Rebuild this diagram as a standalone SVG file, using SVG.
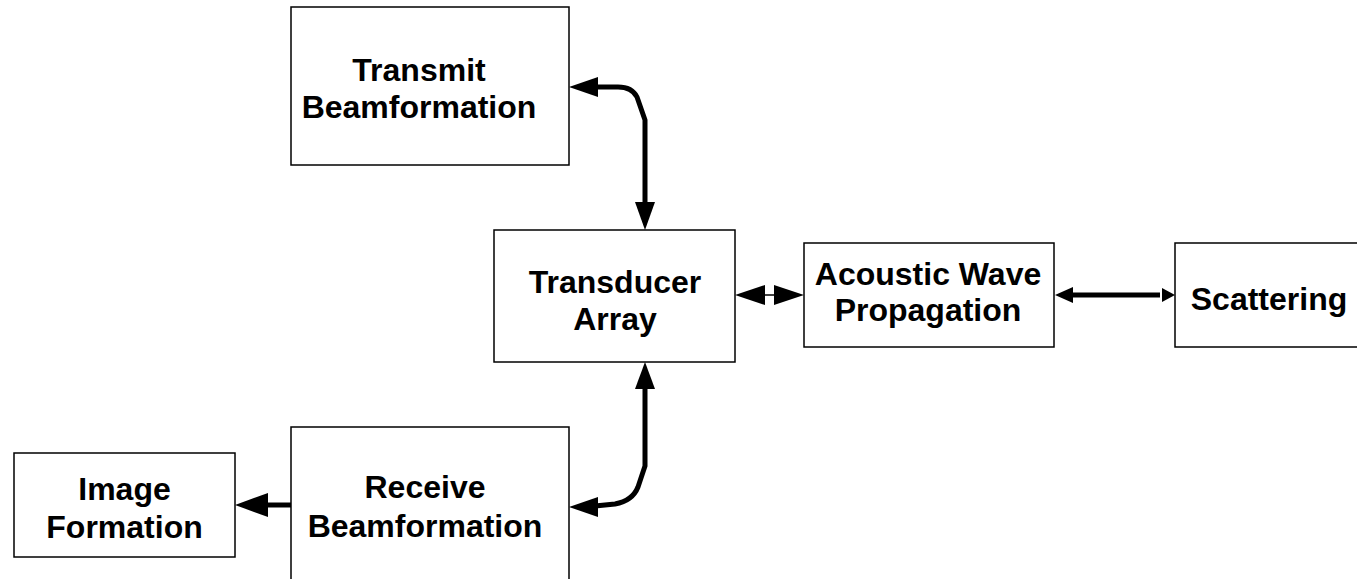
<svg xmlns="http://www.w3.org/2000/svg" width="1357" height="579" viewBox="0 0 1357 579">
  <style>
    .box { fill: #ffffff; stroke: #000000; stroke-width: 1.5; }
    .label { font-family: "Liberation Sans", Arial, sans-serif; font-weight: bold; font-size: 32px; fill: #000000; text-anchor: middle; }
    .wire { fill: none; stroke: #000000; stroke-width: 5; stroke-linejoin: round; }
    .thin { fill: none; stroke: #000000; stroke-width: 1.5; }
    .head { fill: #000000; stroke: none; }
  </style>
  <rect width="1357" height="579" fill="#ffffff"/>

  <g id="transmit">
    <rect class="box" x="291" y="7" width="278" height="158"/>
    <text class="label" x="419" y="81">Transmit</text>
    <text class="label" x="419" y="118">Beamformation</text>
  </g>

  <g id="transducer">
    <rect class="box" x="494" y="230" width="241" height="132"/>
    <text class="label" x="615" y="293">Transducer</text>
    <text class="label" x="615" y="330">Array</text>
  </g>

  <g id="acoustic">
    <rect class="box" x="804" y="243" width="250" height="104"/>
    <text class="label" x="928" y="285">Acoustic Wave</text>
    <text class="label" x="928" y="321">Propagation</text>
  </g>

  <g id="scattering">
    <path class="box" d="M1360 243 H1175 V347 H1360"/>
    <text class="label" x="1269" y="310">Scattering</text>
  </g>

  <g id="receive">
    <path class="box" d="M291 582 V427 H569 V582"/>
    <text class="label" x="425" y="498">Receive</text>
    <text class="label" x="425" y="537">Beamformation</text>
  </g>

  <g id="image">
    <rect class="box" x="14" y="453" width="221" height="104"/>
    <text class="label" x="124.5" y="500">Image</text>
    <text class="label" x="124.5" y="538">Formation</text>
  </g>

  <g id="connectors">
    <!-- transmit <-> transducer -->
    <path class="wire" d="M595 87 L618 87 C628 87 634 91 637 97 L645 120 L645 205"/>
    <polygon class="head" points="569,87 598,77 598,97"/>
    <polygon class="head" points="645,230 635,202 655,202"/>

    <!-- receive <-> transducer -->
    <path class="wire" d="M645 386 L645 466 L638 487 C634 497 626 502 615 504 L595 506"/>
    <polygon class="head" points="645,362 635,389 655,389"/>
    <polygon class="head" points="569,507 598,497 598,517"/>

    <!-- receive -> image -->
    <path class="wire" d="M291 505 L265 505"/>
    <polygon class="head" points="235,505 268,493 268,517"/>

    <!-- transducer <-> acoustic -->
    <path class="thin" d="M764 295 L775 295"/>
    <polygon class="head" points="735,295 765,285 765,305"/>
    <polygon class="head" points="804,295 774,285 774,305"/>

    <!-- acoustic <-> scattering -->
    <path class="wire" d="M1070 295 L1160 295"/>
    <polygon class="head" points="1055,295 1073,287 1073,303"/>
    <polygon class="head" points="1175,295 1162,288 1162,302"/>
  </g>
</svg>
